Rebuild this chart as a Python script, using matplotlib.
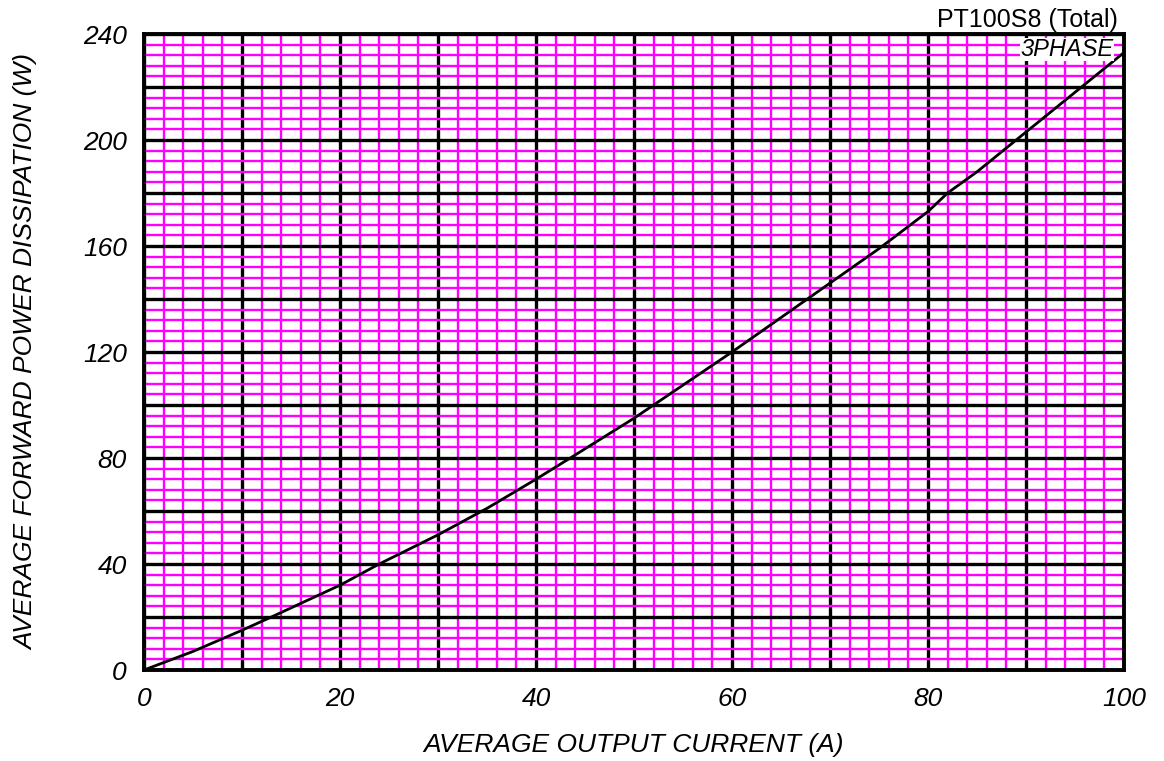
import numpy as np
import matplotlib
matplotlib.use("Agg")
import matplotlib.pyplot as plt
from matplotlib.ticker import MultipleLocator

# curve (A, W)
current = [0, 5, 10, 13, 20, 24, 30, 35, 40, 43.5, 50, 52, 60, 65, 70, 75, 80, 82, 85, 90, 95, 100]
power = [0, 7, 15, 20, 32, 40, 51, 61, 72, 80, 95, 100, 120, 133, 146, 159, 173, 180, 188, 203, 218, 233]

x_ticks = [0, 20, 40, 60, 80, 100]
y_ticks = [0, 40, 80, 120, 160, 200, 240]

plt.rcParams['font.family'] = ['Liberation Sans', 'DejaVu Sans']

fig = plt.figure(figsize=(11.64, 7.61), dpi=100)
ax = fig.add_axes([144 / 1164, 1 - 670 / 761, 980 / 1164, 636 / 761])

ax.set_xlim(0, 100)
ax.set_ylim(0, 240)

ax.xaxis.set_minor_locator(MultipleLocator(2))
ax.yaxis.set_minor_locator(MultipleLocator(4))

ax.grid(which='minor', color='#ff00ff', lw=1.7, zorder=1)
ax.grid(which='major', color='black', lw=2.4, zorder=2)
ax.set_axisbelow(True)

# major grid every 10 A / 20 W, labels only on every other line
ax.set_xticks(np.arange(0, 101, 10))
ax.set_xticklabels([str(v) if v in x_ticks else '' for v in range(0, 101, 10)],
                   fontsize=19, style='italic')
ax.set_yticks(np.arange(0, 241, 20))
ax.set_yticklabels([str(v) if v in y_ticks else '' for v in range(0, 241, 20)],
                   fontsize=19, style='italic')
ax.tick_params(which='both', length=0)
ax.tick_params(axis='x', pad=12)
ax.tick_params(axis='y', pad=12.4)

for s in ax.spines.values():
    s.set_linewidth(2.8)
    s.set_zorder(4)

ax.plot(current, power, color='black', lw=2, zorder=3)

ax.set_xlabel('AVERAGE OUTPUT CURRENT (A)', fontsize=19, style='italic', labelpad=16)
ax.set_ylabel('AVERAGE FORWARD POWER DISSIPATION (W)', fontsize=19, style='italic')
ax.yaxis.set_label_coords(-0.108, 0.5)

ax.text(0.9939, 1.011, 'PT100S8 (Total)', transform=ax.transAxes, ha='right', va='baseline', fontsize=18)
ax.text(0.9898, 0.9937, '3PHASE', transform=ax.transAxes, ha='right', va='top', fontsize=17,
        style='italic', zorder=5,
        bbox=dict(facecolor='white', edgecolor='none', pad=0.3))

fig.savefig('out.png', dpi=100)
